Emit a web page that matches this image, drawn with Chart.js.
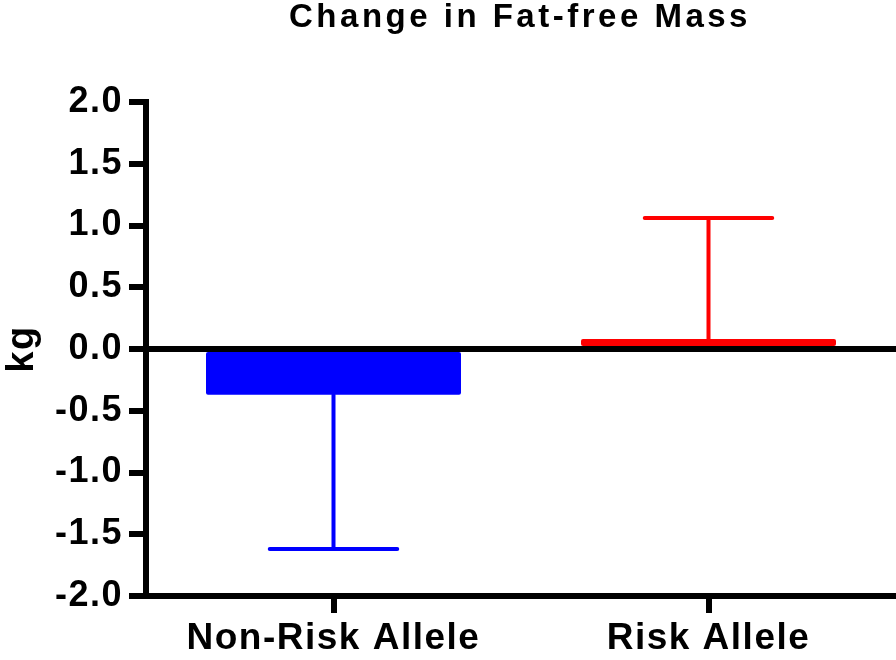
<!DOCTYPE html>
<html>
<head>
<meta charset="utf-8">
<script src="https://cdn.jsdelivr.net/npm/chart.js@4.4.1/dist/chart.umd.min.js"></script>
<style>
  html, body { margin: 0; padding: 0; background: #fff; }
  #wrap { width: 896px; height: 660px; }
</style>
</head>
<body>
<div id="wrap"><canvas id="fatFreeChart"></canvas></div>
<script>
// values
const chartTitle = "Change in Fat-free Mass";
const categories = ["Non-Risk Allele", "Risk Allele"];
const meanChange = [-0.37, 0.08];
const errorSize = [1.25, 0.98];
const barColors = ["#0000ff", "#ff0000"];
const yMin = -2.0, yMax = 2.0, yStep = 0.5;

const fontFamily = '"Liberation Sans", Arial, Helvetica, sans-serif';

// letter spacing so the bold text is as wide as in the figure
const spacingPlugin = {
  id: "spacing",
  beforeDraw(chart) {
    chart.ctx.letterSpacing = "1.5px";
  }
};

// one-sided error bars, pointing away from zero
const errorBarPlugin = {
  id: "errorBars",
  afterDatasetsDraw(chart) {
    const ctx = chart.ctx;
    const meta = chart.getDatasetMeta(0);
    const y = chart.scales.y;
    ctx.save();
    ctx.lineWidth = 4;
    ctx.lineCap = "round";
    meta.data.forEach((bar, i) => {
      const m = meanChange[i];
      const end = m + (m < 0 ? -errorSize[i] : errorSize[i]);
      const x = bar.x;
      const y0 = y.getPixelForValue(m);
      const y1 = y.getPixelForValue(end);
      const half = bar.width / 4;
      ctx.strokeStyle = barColors[i];
      ctx.beginPath();
      ctx.moveTo(x, y0);
      ctx.lineTo(x, y1);
      ctx.moveTo(x - half, y1);
      ctx.lineTo(x + half, y1);
      ctx.stroke();
    });
    // zero line on top of the bars
    const area = chart.chartArea;
    const yz = y.getPixelForValue(0);
    ctx.strokeStyle = "#000";
    ctx.lineWidth = 6;
    ctx.lineCap = "butt";
    ctx.beginPath();
    ctx.moveTo(area.left, yz);
    ctx.lineTo(area.right, yz);
    ctx.stroke();
    ctx.restore();
  }
};

const titlePlugin = {
  id: "plotTitle",
  afterDraw(chart) {
    const ctx = chart.ctx;
    ctx.save();
    ctx.font = "bold 33px " + fontFamily;
    ctx.letterSpacing = "3.5px";
    ctx.fillStyle = "#000";
    ctx.textAlign = "center";
    ctx.textBaseline = "alphabetic";
    ctx.fillText(chartTitle, 520, 27);
    ctx.restore();
  }
};

const ctx = document.getElementById("fatFreeChart").getContext("2d");
const fatFreeChart = new Chart(ctx, {
  type: "bar",
  data: {
    labels: categories,
    datasets: [{
      label: "Change",
      data: meanChange,
      backgroundColor: barColors,
      borderWidth: 0,
      borderRadius: 2,
      borderSkipped: false,
      barPercentage: 0.68,
      categoryPercentage: 1.0
    }]
  },
  options: {
    responsive: true,
    maintainAspectRatio: false,
    animation: false,
    layout: { padding: { top: 102, right: 0, left: 0, bottom: 0 } },
    scales: {
      x: {
        afterFit(scale) { scale.height = 64; },
        border: { display: true, color: "#000", width: 6 },
        grid: { offset: false, drawOnChartArea: false, color: "#000", tickLength: 17, lineWidth: 6 },
        ticks: {
          color: "#000",
          padding: 4,
          font: { family: fontFamily, size: 37, weight: "bold" }
        }
      },
      y: {
        min: yMin,
        max: yMax,
        afterFit(scale) { scale.width = 146; },
        border: { display: true, color: "#000", width: 6 },
        grid: { drawOnChartArea: false, color: "#000", tickLength: 17, lineWidth: 6 },
        ticks: {
          stepSize: yStep,
          color: "#000",
          padding: 6,
          font: { family: fontFamily, size: 36, weight: "bold" },
          callback: v => v.toFixed(1)
        },
        title: {
          display: true,
          text: "kg",
          color: "#000",
          padding: 0,
          font: { family: fontFamily, size: 38, weight: "bold" }
        }
      }
    },
    plugins: {
      legend: { display: false },
      tooltip: { enabled: false }
    }
  },
  plugins: [spacingPlugin, errorBarPlugin, titlePlugin]
});
</script>
</body>
</html>
